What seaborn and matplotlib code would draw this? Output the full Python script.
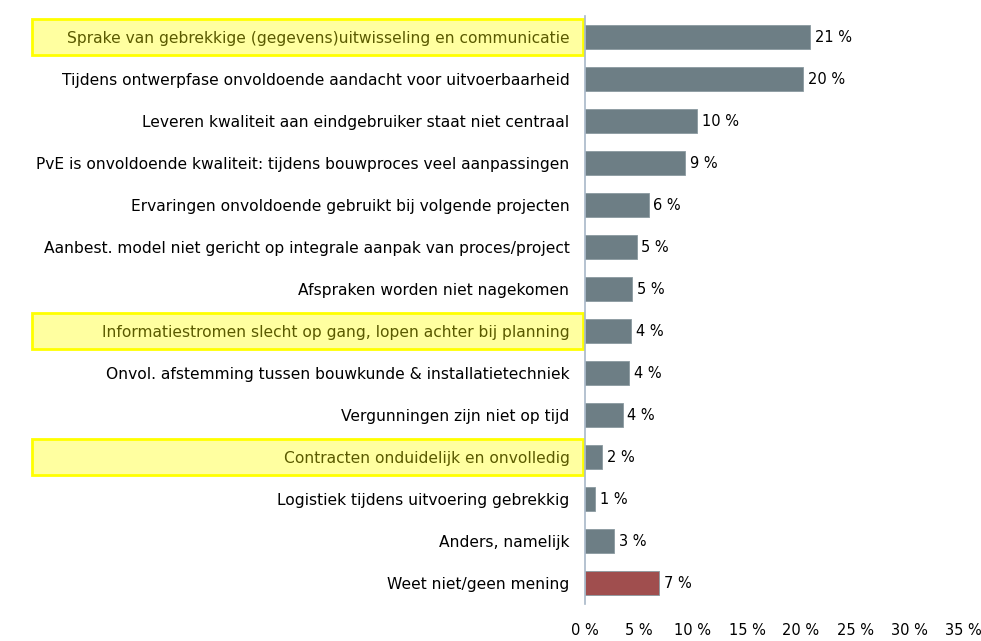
import seaborn as sns
import matplotlib.pyplot as plt
import matplotlib.transforms as mtransforms
from matplotlib.patches import Rectangle
import pandas as pd

# data
categories = [
    'Sprake van gebrekkige (gegevens)uitwisseling en communicatie',
    'Tijdens ontwerpfase onvoldoende aandacht voor uitvoerbaarheid',
    'Leveren kwaliteit aan eindgebruiker staat niet centraal',
    'PvE is onvoldoende kwaliteit: tijdens bouwproces veel aanpassingen',
    'Ervaringen onvoldoende gebruikt bij volgende projecten',
    'Aanbest. model niet gericht op integrale aanpak van proces/project',
    'Afspraken worden niet nagekomen',
    'Informatiestromen slecht op gang, lopen achter bij planning',
    'Onvol. afstemming tussen bouwkunde & installatietechniek',
    'Vergunningen zijn niet op tijd',
    'Contracten onduidelijk en onvolledig',
    'Logistiek tijdens uitvoering gebrekkig',
    'Anders, namelijk',
    'Weet niet/geen mening',
]
values = [20.8, 20.2, 10.4, 9.3, 5.9, 4.8, 4.4, 4.3, 4.1, 3.5, 1.6, 1.0, 2.7, 6.9]
value_labels = ['21 %', '20 %', '10 %', '9 %', '6 %', '5 %', '5 %', '4 %', '4 %', '4 %',
                '2 %', '1 %', '3 %', '7 %']
highlighted = [0, 7, 10]
xticks = [0, 5, 10, 15, 20, 25, 30, 35]

grey = '#6d7e85'
red = '#a04e4e'
colors = [grey] * 13 + [red]

df = pd.DataFrame({'categorie': categories, 'waarde': values})

sns.set_style('white')
plt.rcParams['font.family'] = ['DejaVu Sans']
plt.rcParams['text.color'] = 'black'
plt.rcParams['xtick.color'] = 'black'
plt.rcParams['ytick.color'] = 'black'

fig = plt.figure(figsize=(9.81, 6.41), dpi=100)
ax = fig.add_axes([0.596, 0.0577, 0.386, 0.9173])

sns.barplot(data=df, x='waarde', y='categorie', hue='categorie', palette=colors,
            legend=False, width=0.57, orient='h', ax=ax, saturation=1,
            edgecolor='#8a9aa0', linewidth=0.6)

# highlight boxes behind the labels
trans = mtransforms.blended_transform_factory(ax.transAxes, ax.transData)
for i in highlighted:
    rect = Rectangle((-1.46, i - 0.42), 1.455, 0.84, transform=trans,
                     facecolor='#ffffa0', edgecolor='#ffff00', linewidth=2,
                     clip_on=False, zorder=0.5)
    ax.add_artist(rect)

ax.set_xlim(0, 35)
ax.set_ylim(len(categories) - 0.5, -0.5)
ax.set_xlabel('')
ax.set_ylabel('')

# value labels
for i, (v, lab) in enumerate(zip(values, value_labels)):
    ax.text(v + 0.45, i, lab, va='center', ha='left', fontsize=10.5, color='black')

# x axis
ax.set_xticks(xticks)
ax.set_xticklabels([f'{t} %' for t in xticks], fontsize=10.5)
ax.tick_params(axis='x', length=0, pad=14)

# y axis
ax.set_yticks(range(len(categories)))
ax.set_yticklabels(categories)
ax.tick_params(axis='y', which='major', length=0, pad=11, labelsize=11.2)
ax.set_yticks([i + 0.5 for i in range(-1, len(categories))], minor=True)
ax.tick_params(axis='y', which='minor', length=5, direction='out', color='#a8b8c8', width=1)
for i, lbl in enumerate(ax.get_yticklabels()):
    lbl.set_color('#5a5a00' if i in highlighted else 'black')

for s in ['top', 'right', 'bottom']:
    ax.spines[s].set_visible(False)
ax.spines['left'].set_color('#a8b8c8')
ax.spines['left'].set_linewidth(1.2)

fig.savefig('out.png', dpi=100)
